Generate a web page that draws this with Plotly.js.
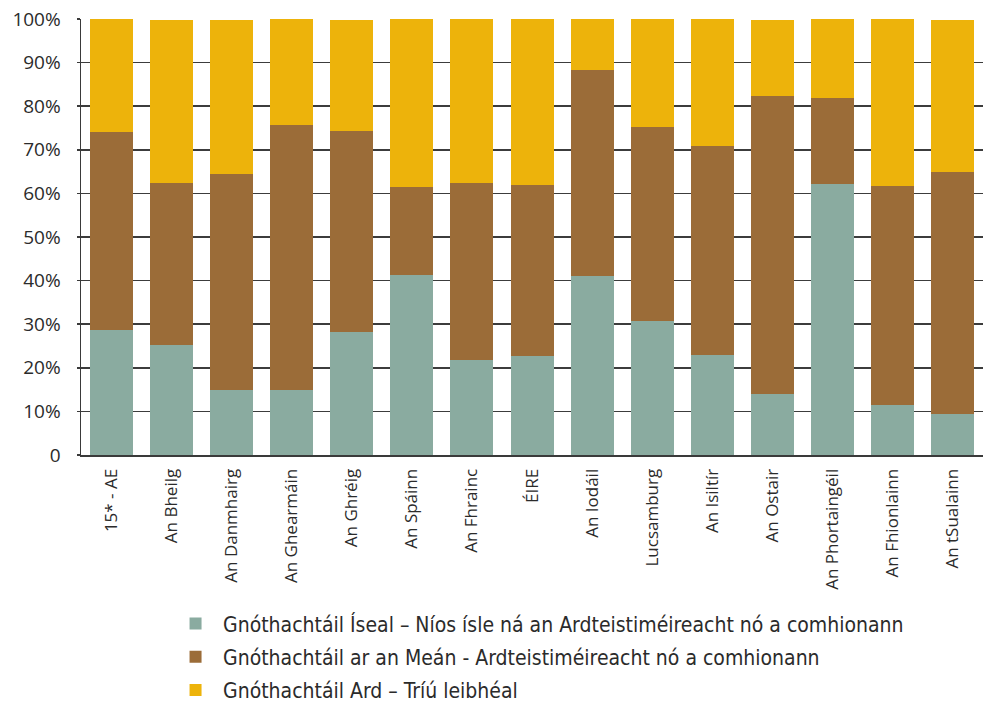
<!DOCTYPE html>
<html>
<head>
<meta charset="utf-8">
<script src="https://cdn.plot.ly/plotly-3.0.1.min.js"></script>
<style>html,body{margin:0;padding:0;background:#fff;}#chart{width:983px;height:702px;}</style>
</head>
<body>
<div id="chart"></div>
<script>
var categories = ['15* - AE','An Bheilg','An Danmhairg','An Ghearmáin','An Ghréig','An Spáinn','An Fhrainc','ÉIRE','An Iodáil','Lucsamburg','An Isiltír','An Ostair','An Phortaingéil','An Fhionlainn','An tSualainn'];
var lowShare  = [28.7, 25.3, 15.0, 14.8, 28.1, 41.4, 21.9, 22.8, 41.1, 30.8, 23.0, 13.9, 62.2, 11.5, 9.5];
var midShare  = [45.4, 37.1, 49.5, 60.9, 46.2, 20.1, 40.5, 39.2, 47.2, 44.5, 47.9, 68.5, 19.7, 50.2, 55.4];
var highShare = [25.9, 37.3, 35.2, 24.3, 25.4, 38.5, 37.6, 38.0, 11.7, 24.7, 29.1, 17.3, 18.1, 38.3, 34.8];
var seriesNames = ['Gnóthachtáil Íseal – Níos ísle ná an Ardteistiméireacht nó a comhionann',
                   'Gnóthachtáil ar an Meán - Ardteistiméireacht nó a comhionann',
                   'Gnóthachtáil Ard – Tríú leibhéal'];
var tickVals = [0,10,20,30,40,50,60,70,80,90,100];
var tickText = ['0','10%','20%','30%','40%','50%','60%','70%','80%','90%','100%'];
var titleText = 'Daonra 25-64 bliain d\'aois de réir gnóthachtáil oideachais ag grúpa aoise, 2000 (%)';

var colors = ['#8aaba0','#9b6c38','#edb30b'];
var values = [lowShare, midShare, highShare];
var traces = values.map(function(v,i){
  return {type:'bar', x:categories, y:v, name:seriesNames[i], legendgroup:'g'+i,
          marker:{color:colors[i], line:{width:0}}, hoverinfo:'y+name'};
});

var layout = {
  width:983, height:702,
  margin:{l:81, r:0, t:19, b:247, autoexpand:false},
  barmode:'stack', bargap:0.285,
  paper_bgcolor:'#fff', plot_bgcolor:'#fff',
  font:{family:'Open Sans, sans-serif', color:'#2b2b2b'},
  showlegend:true,
  legend:{x:0.0965, xanchor:'left', y:-0.34, yanchor:'top', traceorder:'grouped',
          tracegroupgap:3, itemwidth:45,
          font:{family:'Liberation Sans Narrow, DejaVu Sans Condensed, Roboto, sans-serif', size:21, color:'#2b2b2b'}},
  xaxis:{type:'category', tickangle:-90, showline:true, linecolor:'#3a3a3a', linewidth:2, automargin:false,
         ticks:'', ticklabelstandoff:5, tickfont:{size:17, color:'#2b2b2b'}, showgrid:false, fixedrange:true},
  yaxis:{range:[0,100], tickvals:tickVals, ticktext:tickText, showline:true, linecolor:'#3a3a3a', linewidth:1.5,
         ticks:'outside', ticklen:3, tickcolor:'#3a3a3a', tickwidth:1.5, automargin:false,
         showgrid:true, gridcolor:'#3c3c3c', gridwidth:1.5, zeroline:false,
         tickfont:{size:19, color:'#2b2b2b'}, ticklabelstandoff:12, fixedrange:true},
  annotations:[{text:'<b>'+titleText+'</b>', xref:'paper', yref:'paper', x:0.846, xanchor:'right',
                y:1, yanchor:'bottom', yshift:18, showarrow:false, font:{size:16, color:'#2b2b2b'}}]
};
Plotly.newPlot('chart', traces, layout, {displayModeBar:false, staticPlot:true});
</script>
</body>
</html>
